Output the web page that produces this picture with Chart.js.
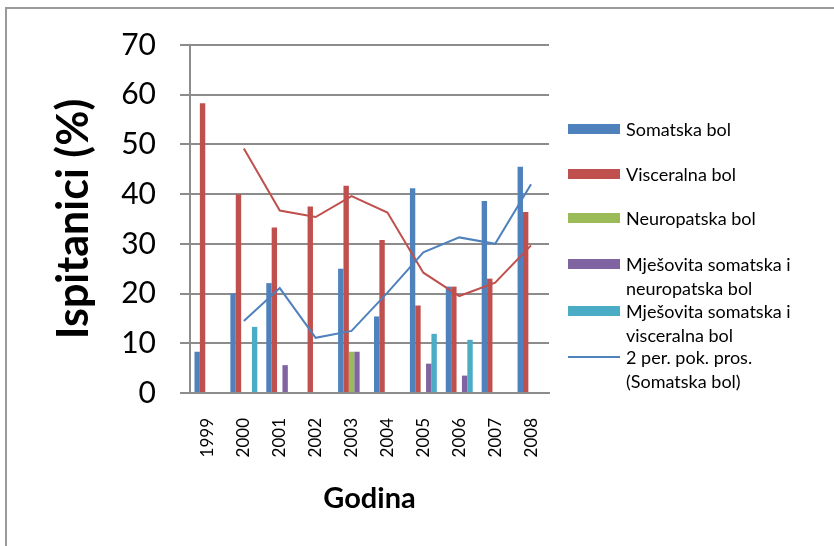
<!DOCTYPE html>
<html>
<head>
<meta charset="utf-8">
<script src="https://cdn.jsdelivr.net/npm/chart.js@4"></script>
<style>
  body { margin: 0; background: #fff; font-family: Lato, sans-serif; }
  #wrap { position: relative; width: 834px; height: 546px; overflow: hidden; }
  #frame { position: absolute; left: 5px; top: 7px; width: 900px; height: 600px;
           border-left: 2px solid #9a9a9a; border-top: 2px solid #9a9a9a; }
  canvas { position: absolute; left: 0; top: 0; }
  .item { position: absolute; left: 568px; font-size: 18px; line-height: 24px; color: #000; }
  .item .key { position: absolute; left: 0; top: 7px; width: 52px; height: 10px; }
  .item .key.line { top: 11px; height: 2px; }
  .item .txt { position: absolute; left: 58px; top: 0; white-space: nowrap; }
</style>
</head>
<body>
<div id="wrap">
  <div id="frame"></div>
  <canvas id="chart" width="834" height="546"></canvas>
  <div id="legend"></div>
</div>
<script>
const years = ['1999', '2000', '2001', '2002', '2003', '2004', '2005', '2006', '2007', '2008'];
const somatska = [8.3, 20.0, 22.1, 0, 25.0, 15.4, 41.2, 21.4, 38.6, 45.5];
const visceralna = [58.3, 40.0, 33.3, 37.5, 41.7, 30.8, 17.6, 21.4, 23.0, 36.4];
const neuropatska = [0, 0, 0, 0, 8.3, 0, 0, 0, 0, 0];
const mjesovitaSN = [0, 0, 5.6, 0, 8.3, 0, 5.9, 3.5, 0, 0];
const mjesovitaSV = [0, 13.3, 0, 0, 0, 0, 11.9, 10.7, 0, 0];
// moving averages
const somatskaMA = [null, 14.5, 21.1, 11.1, 12.5, 20.2, 28.3, 31.3, 30.0, 42.0];
const visceralnaMA = [null, 49.2, 36.7, 35.4, 39.6, 36.3, 24.2, 19.5, 22.2, 29.7];

const blue = '#4F81BD', red = '#C0504D', green = '#9BBB59', purple = '#8064A2', cyan = '#4BACC6';

function bar(label, data, color) {
    return { type: 'bar', label, data, backgroundColor: color, order: 1,
             categoryPercentage: 0.75, barPercentage: 1 };
}
function line(label, data, color) {
    return { type: 'line', label, data, borderColor: color, borderWidth: 2,
             pointRadius: 0, fill: false, tension: 0, order: 0 };
}

const datasets = [
    bar('Somatska bol', somatska, blue),
    bar('Visceralna bol', visceralna, red),
    bar('Neuropatska bol', neuropatska, green),
    bar('Mješovita somatska i|neuropatska bol', mjesovitaSN, purple),
    bar('Mješovita somatska i|visceralna bol', mjesovitaSV, cyan),
    line('2 per. pok. pros.|(Somatska bol)', somatskaMA, blue),
    line('2 per. pok. pros.|(Visceralna bol)', visceralnaMA, red),
];

new Chart(document.getElementById('chart'), {
    type: 'bar',
    data: { labels: years, datasets },
    options: {
        responsive: false,
        animation: false,
        layout: { padding: { left: 44, top: 45, right: 285, bottom: 26 } },
        plugins: { legend: { display: false }, tooltip: { enabled: false } },
        scales: {
            x: {
                grid: { display: false, drawTicks: false },
                border: { display: true, color: '#8c8c8c', width: 2 },
                ticks: { minRotation: 90, maxRotation: 90, autoSkip: false, padding: 25,
                         color: '#000', font: { family: 'Lato', size: 17 } },
                title: { display: true, text: 'Godina', color: '#000',
                         font: { family: 'Lato', size: 29, weight: 'bold' } },
                afterFit: s => { s.height = 127; }
            },
            y: {
                min: 0, max: 70,
                grid: { color: '#8c8c8c', lineWidth: 2, tickLength: 10 },
                border: { color: '#8c8c8c', width: 2 },
                ticks: { stepSize: 10, padding: 24, color: '#000',
                         font: { family: 'Lato', size: 30 } },
                title: { display: true, text: 'Ispitanici (%)', color: '#000',
                         font: { family: 'Lato', size: 43, weight: 'bold' } },
                afterFit: s => { s.width = 146; }
            }
        }
    }
});

// legend (the last line series is cut off in the original)
const legendTops = [117, 162, 206, 252, 299, 345];
const legend = document.getElementById('legend');
datasets.slice(0, 6).forEach((ds, i) => {
    const item = document.createElement('div');
    item.className = 'item';
    item.style.top = legendTops[i] + 'px';
    const key = document.createElement('div');
    key.className = 'key' + (ds.type === 'line' ? ' line' : '');
    key.style.background = ds.type === 'line' ? ds.borderColor : ds.backgroundColor;
    const txt = document.createElement('div');
    txt.className = 'txt';
    txt.innerHTML = ds.label.split('|').join('<br>');
    item.appendChild(key);
    item.appendChild(txt);
    legend.appendChild(item);
});
</script>
</body>
</html>
